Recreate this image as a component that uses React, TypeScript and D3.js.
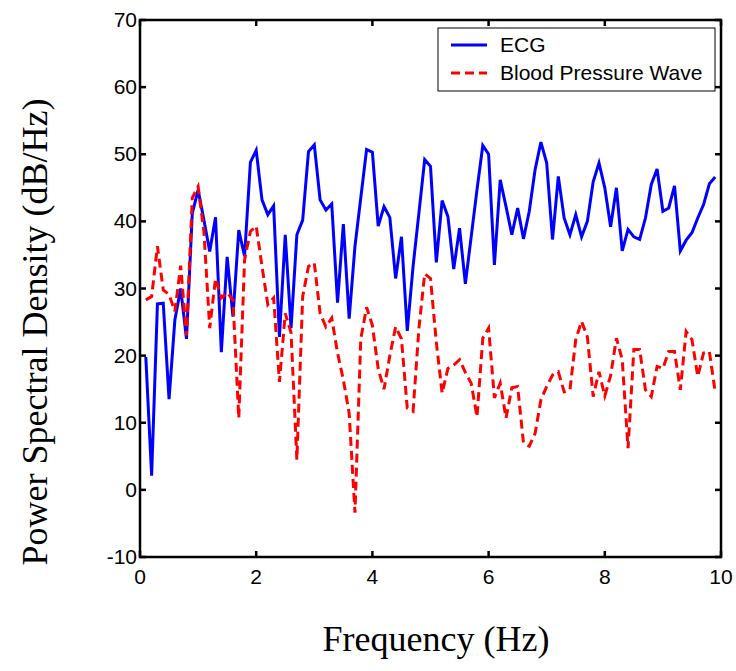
import React from "react";
import * as d3 from "d3";

const startFreq = 0.1;
const stepFreq = 0.1;

const ecg = [
  19.8, 2.1, 27.7, 27.8, 13.5, 25.3, 30.0, 22.5, 41.2, 44.7,
  40.2, 35.5, 40.6, 20.5, 34.7, 25.8, 38.7, 34.8, 48.8, 50.6,
  43.2, 41.0, 42.3, 22.8, 38.0, 24.1, 38.0, 40.2, 50.4, 51.4,
  43.2, 41.7, 42.6, 27.9, 39.6, 25.5, 36.3, 43.5, 50.7, 50.3,
  39.3, 42.2, 40.6, 31.5, 37.7, 23.7, 33.3, 41.2, 49.2, 48.2,
  33.9, 43.1, 40.7, 32.9, 39.0, 30.7, 37.7, 44.7, 51.3, 50.0,
  33.5, 46.2, 42.2, 38.0, 42.0, 37.4, 41.5, 47.7, 51.8, 48.7,
  37.3, 46.7, 40.5, 38.0, 41.0, 37.7, 40.0, 45.9, 48.7, 45.0,
  39.2, 45.0, 35.6, 38.8, 37.7, 37.3, 40.5, 45.5, 47.8, 41.5,
  42.0, 45.3, 35.6, 37.2, 38.3, 40.5, 42.5, 45.6, 46.6,
];

const bloodPressure = [
  28.3, 28.8, 36.3, 29.8, 29.1, 26.6, 33.4, 23.0, 43.5, 45.2,
  38.5, 24.1, 31.5, 28.6, 29.4, 28.3, 10.7, 34.3, 38.5, 39.3,
  33.3, 27.6, 28.6, 16.1, 26.3, 23.4, 4.5, 28.8, 33.3, 33.8,
  26.3, 24.3, 25.6, 20.4, 16.4, 11.4, -3.4, 22.5, 27.2, 24.5,
  18.0, 15.0, 20.0, 24.3, 22.5, 12.2, 11.7, 24.0, 32.2, 31.5,
  22.0, 14.4, 18.1, 18.6, 19.4, 17.5, 15.9, 10.9, 22.6, 24.1,
  13.7, 15.9, 10.7, 15.2, 15.4, 7.0, 6.5, 8.4, 13.4, 15.4,
  17.1, 17.6, 14.6, 14.9, 22.4, 25.1, 22.8, 13.9, 17.6, 14.0,
  17.0, 22.6, 19.4, 6.2, 20.9, 20.9, 14.9, 13.9, 18.4, 18.1,
  20.6, 20.6, 14.9, 23.6, 22.4, 16.9, 20.4, 20.6, 14.6,
];

const xTicks = [0, 2, 4, 6, 8, 10];
const yTicks = [-10, 0, 10, 20, 30, 40, 50, 60, 70];
const seriesNames = ["ECG", "Blood Pressure Wave"];
const xTitle = "Frequency (Hz)";
const yTitle = "Power Spectral Density (dB/Hz)";

export default function App() {
  const W = 736;
  const H = 671;
  const left = 140;
  const right = 721;
  const top = 20;
  const bottom = 557;

  const x = d3.scaleLinear().domain([0, 10]).range([left, right]);
  const y = d3.scaleLinear().domain([-10, 70]).range([bottom, top]);

  const freqs = ecg.map((_, i) => +(startFreq + i * stepFreq).toFixed(2));
  const line = d3
    .line<number>()
    .x((_, i) => x(freqs[i]))
    .y((d) => y(d));

  const tickLen = 6;
  const axisW = 2.5;
  const tickFont = "Arial, 'Liberation Sans', sans-serif";
  const titleFont = "'Times New Roman', 'Liberation Serif', serif";

  const legX = 438;
  const legY = 28;
  const legW = 277;
  const legH = 63;

  return (
    <svg
      width={W}
      height={H}
      style={{ position: "absolute", left: 0, top: 0, background: "#fff" }}
    >
      <rect x={0} y={0} width={W} height={H} fill="#fff" />
      <path
        d={line(ecg) || ""}
        fill="none"
        stroke="#0000ff"
        strokeWidth={3}
        strokeLinejoin="miter"
      />
      <path
        d={line(bloodPressure) || ""}
        fill="none"
        stroke="#ff0000"
        strokeWidth={3}
        strokeDasharray="9,5"
      />
      {/* axes box */}
      <rect
        x={left}
        y={top}
        width={right - left}
        height={bottom - top}
        fill="none"
        stroke="#000"
        strokeWidth={axisW}
      />
      {xTicks.map((t) => (
        <g key={"x" + t}>
          <line x1={x(t)} x2={x(t)} y1={bottom} y2={bottom - tickLen} stroke="#000" strokeWidth={axisW} />
          <line x1={x(t)} x2={x(t)} y1={top} y2={top + tickLen} stroke="#000" strokeWidth={axisW} />
          <text
            x={x(t)}
            y={584}
            textAnchor="middle"
            fontFamily={tickFont}
            fontSize={21}
            fill="#000"
          >
            {t}
          </text>
        </g>
      ))}
      {yTicks.map((t) => (
        <g key={"y" + t}>
          <line x1={left} x2={left + tickLen} y1={y(t)} y2={y(t)} stroke="#000" strokeWidth={axisW} />
          <line x1={right} x2={right - tickLen} y1={y(t)} y2={y(t)} stroke="#000" strokeWidth={axisW} />
          <text
            x={137}
            y={y(t) + 7}
            textAnchor="end"
            fontFamily={tickFont}
            fontSize={21}
            fill="#000"
          >
            {t}
          </text>
        </g>
      ))}
      {/* legend */}
      <rect x={legX} y={legY} width={legW} height={legH} fill="#fff" stroke="#000" strokeWidth={1} />
      <line x1={451} x2={487} y1={45} y2={45} stroke="#0000ff" strokeWidth={3} />
      <line x1={451} x2={487} y1={73} y2={73} stroke="#ff0000" strokeWidth={3} strokeDasharray="9,5" />
      <text x={500} y={52} fontFamily={tickFont} fontSize={21} fill="#000">
        {seriesNames[0]}
      </text>
      <text x={500} y={80} fontFamily={tickFont} fontSize={21} fill="#000">
        {seriesNames[1]}
      </text>
      {/* titles */}
      <text
        x={436}
        y={651}
        textAnchor="middle"
        fontFamily={titleFont}
        fontSize={36}
        fill="#000"
      >
        {xTitle}
      </text>
      <text
        transform={`translate(47, 332) rotate(-90)`}
        textAnchor="middle"
        fontFamily={titleFont}
        fontSize={36}
        fill="#000"
      >
        {yTitle}
      </text>
    </svg>
  );
}
